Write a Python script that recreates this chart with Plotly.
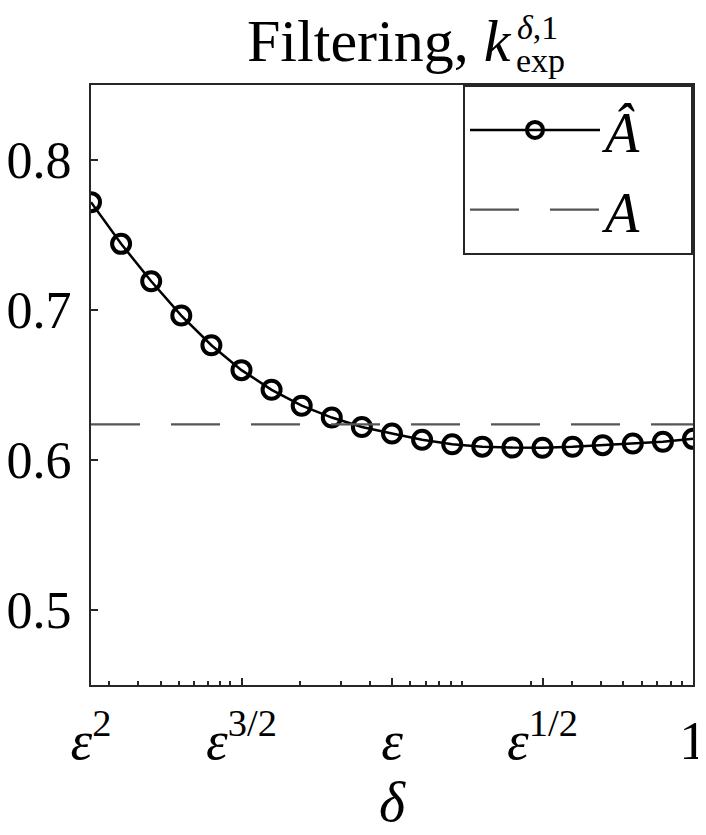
import math
import plotly.graph_objects as go

# ---- data ----
eps = 0.05
delta_exponents = [2.0, 1.9, 1.8, 1.7, 1.6, 1.5, 1.4, 1.3, 1.2, 1.1, 1.0,
                   0.9, 0.8, 0.7, 0.6, 0.5, 0.4, 0.3, 0.2, 0.1, 0.0]
A_hat = [0.7719, 0.7441, 0.7192, 0.6963, 0.6765, 0.6599, 0.6468, 0.6362,
         0.6283, 0.6220, 0.6177, 0.6135, 0.6105, 0.6089, 0.6083, 0.6082,
         0.6088, 0.6099, 0.6110, 0.6122, 0.6141]
A_value = 0.6238

tick_exponents = [2.0, 1.5, 1.0, 0.5, 0.0]
tick_labels = ["<i>ε</i><sup>2</sup>", "<i>ε</i><sup>3/2</sup>", "<i>ε</i>",
               "<i>ε</i><sup>1/2</sup>", "1"]
minor_ticks = [0.003, 0.004, 0.005, 0.006, 0.007, 0.008, 0.009, 0.01,
               0.02, 0.03, 0.04, 0.05, 0.06, 0.07, 0.08, 0.09, 0.1,
               0.2, 0.3, 0.4, 0.5, 0.6, 0.7, 0.8, 0.9]
y_ticks = [0.5, 0.6, 0.7, 0.8]
y_tick_labels = ["0.5", "0.6", "0.7", "0.8"]

delta = [eps ** p for p in delta_exponents]
tick_vals = [eps ** p for p in tick_exponents]
x_lo, x_hi = eps ** 2, 1.0

FONT = "Liberation Serif"
AX = "#262626"
NB = "\u00a0"

fig = go.Figure()
fig.add_trace(go.Scatter(
    x=delta, y=A_hat, mode="lines+markers", name="<i>Â</i>" + NB * 3,
    legendgroup="g1",
    line=dict(color="black", width=2.5),
    marker=dict(symbol="circle-open", size=18, color="black",
                line=dict(width=4, color="black")),
))
fig.add_trace(go.Scatter(
    x=[x_lo, x_hi], y=[A_value, A_value], mode="lines", name="<i>A</i>" + NB * 3,
    legendgroup="g2",
    line=dict(color="#555555", width=2.2, dash="49px,31px"),
))

# the page body adds an 8px offset, so the figure is 8px smaller
fig.update_layout(
    width=698, height=827,
    margin=dict(l=83, r=13, t=77, b=150, autoexpand=False),
    paper_bgcolor="white", plot_bgcolor="white",
    font=dict(family=FONT, size=55, color="black"),
    showlegend=True,
    legend=dict(x=1, xanchor="right", y=1, yanchor="top",
                bordercolor=AX, borderwidth=2, bgcolor="white",
                itemwidth=130, tracegroupgap=4,
                font=dict(size=56, family=FONT)),
    xaxis=dict(
        type="log", range=[math.log10(x_lo), math.log10(x_hi)],
        tickmode="array", tickvals=tick_vals, ticktext=tick_labels,
        ticks="inside", ticklen=7, tickwidth=2, tickcolor=AX,
        showline=True, linecolor=AX, linewidth=2, mirror=True,
        showgrid=False, zeroline=False, ticklabelstandoff=6, automargin=False,
        ticklabeloverflow="allow",
        minor=dict(tickmode="array", tickvals=minor_ticks, ticks="inside",
                   ticklen=4, tickwidth=2, tickcolor=AX, showgrid=False),
        title=dict(text="<i>δ</i>", font=dict(size=56, family=FONT), standoff=0),
    ),
    yaxis=dict(
        range=[0.45, 0.85], tickmode="array", tickvals=y_ticks, ticktext=y_tick_labels,
        ticks="inside", ticklen=7, tickwidth=2, tickcolor=AX,
        showline=True, linecolor=AX, linewidth=2, mirror=True,
        showgrid=False, zeroline=False, ticklabelstandoff=7, automargin=False,
        ticklabeloverflow="allow", tickfont=dict(size=52, family=FONT),
    ),
)

# title: Filtering, k_exp^{δ,1}
fig.add_annotation(text="Filtering, <i>k</i>", xref="paper", yref="paper",
                   x=0.703, y=1.073, xanchor="right", yanchor="middle",
                   showarrow=False, font=dict(size=60, family=FONT))
fig.add_annotation(text="<i>δ</i>,1", xref="paper", yref="paper",
                   x=0.705, y=1.096, xanchor="left", yanchor="middle",
                   showarrow=False, font=dict(size=34, family=FONT))
fig.add_annotation(text="exp", xref="paper", yref="paper",
                   x=0.703, y=1.040, xanchor="left", yanchor="middle",
                   showarrow=False, font=dict(size=34, family=FONT))

fig.write_html("out.html")
